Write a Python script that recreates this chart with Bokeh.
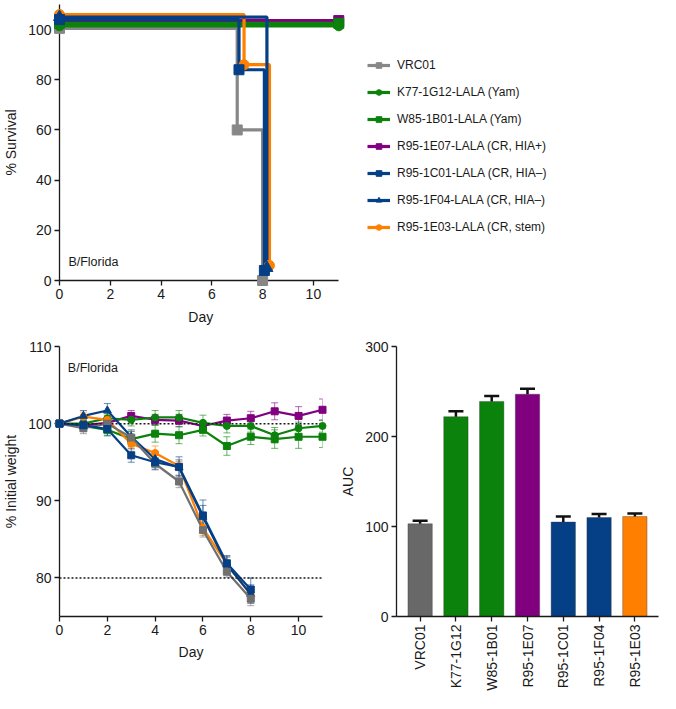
import math
from bokeh.plotting import figure
from bokeh.models import (Range1d, Legend, LegendItem, Label, Span, Whisker, Title,
                          ColumnDataSource, FixedTicker, TeeHead)
from bokeh.layouts import column, row
from bokeh.embed import file_html
from bokeh.resources import INLINE

FONT = "Liberation Sans"
TXT = "#1a1a1a"

# ---------------- data ----------------
names = ["VRC01", "K77-1G12-LALA (Yam)", "W85-1B01-LALA (Yam)",
         "R95-1E07-LALA (CR, HIA+)", "R95-1C01-LALA (CR, HIA\u2013)",
         "R95-1F04-LALA (CR, HIA\u2013)", "R95-1E03-LALA (CR, stem)"]
short_names = ["VRC01", "K77-1G12", "W85-1B01", "R95-1E07", "R95-1C01", "R95-1F04", "R95-1E03"]
surv_colors = ["#878787", "#0b820b", "#0b820b", "#800080", "#053f86", "#053f86", "#ff8000"]
line_colors = ["#707070", "#0b820b", "#0b820b", "#800080", "#053f86", "#053f86", "#ff8000"]
bar_colors = ["#686868", "#0b820b", "#0b820b", "#800080", "#053f86", "#053f86", "#ff8000"]
markers = ["square", "circle", "square", "square", "square", "triangle", "circle"]

# survival (%), as drawn (with small display offsets)
surv_days = [[0, 7.0, 8.0], [0, 11], [0, 11], [0, 11],
             [0, 7.07, 8.07], [0, 8.17], [0, 7.27, 8.27]]
surv_vals = [[100.5, 60, 0], [101.5, 101.5], [102.5, 102.5], [103.6, 103.6],
             [104, 84, 4], [105, 5], [106, 86, 6]]

# weight (% initial)
wt_vals = [
    [100, 99.4, 100.0, 98.2, 94.8, 92.5, 86.2, 80.8, 77.3],
    [100, 100.0, 100.7, 100.5, 100.8, 100.8, 100.1, 99.7, 99.7, 98.5, 99.4, 99.7],
    [100, 99.7, 99.2, 98.0, 98.7, 98.5, 99.2, 97.1, 98.3, 98.0, 98.3, 98.3],
    [100, 99.8, 100.1, 101.0, 100.5, 100.4, 99.7, 100.4, 100.7, 101.6, 101.0, 101.8],
    [100, 99.8, 99.3, 95.9, 95.0, 94.4, 88.1, 81.9, 78.5],
    [100, 101.0, 101.7, 98.3, 95.4, 94.3, 87.9, 81.7, 77.9],
    [100, 100.9, 100.5, 97.4, 96.2, 94.5, 86.5, 81.8, 77.8],
]
wt_err = [
    [0, 0.7, 0.5, 0.8, 0.8, 0.8, 0.9, 0.7, 0.9],
    [0, 0.5, 0.6, 0.8, 0.9, 0.9, 1.0, 0.9, 0.8, 1.0, 0.8, 0.8],
    [0, 0.6, 0.8, 1.0, 1.1, 1.1, 0.8, 1.2, 1.0, 1.2, 1.5, 1.4],
    [0, 0.8, 0.7, 0.7, 0.7, 0.8, 0.6, 0.8, 0.9, 1.1, 1.2, 1.4],
    [0, 0.6, 0.8, 0.9, 0.9, 1.3, 2.0, 1.0, 1.5],
    [0, 0.7, 0.9, 0.9, 0.9, 1.0, 1.5, 1.0, 1.2],
    [0, 0.6, 0.6, 0.8, 0.9, 0.6, 1.0, 1.0, 1.0],
]

# AUC
auc = [103, 222, 239, 247, 105, 110, 111]
auc_err = [3.5, 6, 6, 6, 6, 4, 3.5]

day_ticks = [0, 2, 4, 6, 8, 10]
surv_ticks = [0, 20, 40, 60, 80, 100]
wt_ticks = [80, 90, 100, 110]
auc_ticks = [0, 100, 200, 300]


def style_axes(p):
    for ax in list(p.xaxis) + list(p.yaxis):
        ax.axis_line_color = TXT
        ax.axis_line_width = 1.3
        ax.major_tick_line_color = TXT
        ax.major_tick_line_width = 1.3
        ax.major_tick_out = 5
        ax.major_tick_in = 0
        ax.minor_tick_line_color = None
        ax.major_label_text_font = FONT
        ax.major_label_text_font_size = "14px"
        ax.major_label_text_color = TXT
        ax.major_label_standoff = 3
        ax.axis_label_text_font = FONT
        ax.axis_label_text_font_size = "14px"
        ax.axis_label_text_font_style = "normal"
        ax.axis_label_text_color = TXT
        ax.axis_label_standoff = 6
    p.xgrid.grid_line_color = None
    p.ygrid.grid_line_color = None
    p.outline_line_color = None
    p.background_fill_color = None
    p.border_fill_color = None


# ---------------- survival ----------------
# frame spans the legend area too; the x axis itself is bounded to 0..11
P1_W, P1_L, P1_R = 660, 54, 2
frame_w1 = P1_W - P1_L - P1_R
px_per_day1 = 25.6
p1 = figure(width=P1_W, height=336, output_backend="svg", toolbar_location=None,
            x_range=Range1d(0, frame_w1 / px_per_day1), y_range=Range1d(0, 110),
            min_border_left=P1_L, min_border_right=P1_R, min_border_top=4,
            min_border_bottom=56)
p1.xaxis.ticker = FixedTicker(ticks=day_ticks)
p1.xaxis.bounds = (0, 11)
p1.yaxis.ticker = FixedTicker(ticks=surv_ticks)
p1.yaxis.axis_label = "% Survival"
style_axes(p1)
# x-axis title centred under the bounded 0..11 axis (offset from frame left, px)
p1.add_layout(Title(text="Day", align="left", offset=5.5 * px_per_day1 - 12,
                    text_font=FONT, text_font_size="14px", text_font_style="normal",
                    text_color=TXT, standoff=10), "below")

draw_order = [0, 3, 2, 1, 6, 4, 5]
msize_s = {"square": 10, "circle": 10, "triangle": 12}
items = {}
for i in draw_order:
    src = ColumnDataSource(dict(x=surv_days[i], y=surv_vals[i]))
    lr = p1.step("x", "y", source=src, mode="after", line_color=surv_colors[i], line_width=3.2)
    sr = p1.scatter("x", "y", source=src, marker=markers[i], size=msize_s[markers[i]],
                    fill_color=surv_colors[i], line_color=surv_colors[i], level="overlay")
    items[i] = [lr, sr]

legend = Legend(items=[LegendItem(label=names[i], renderers=items[i]) for i in range(7)],
                location=(308, 46), glyph_width=23, glyph_height=14, label_height=14,
                label_standoff=7, spacing=13, padding=0, margin=0,
                label_text_font=FONT, label_text_font_size="12px", label_text_color=TXT,
                border_line_color=None, background_fill_alpha=0)
p1.add_layout(legend, "center")
p1.add_layout(Label(x=0.35, y=7.5, text="B/Florida", text_font=FONT, text_font_size="12.5px",
                    text_color=TXT, text_baseline="middle"))

# ---------------- weight ----------------
p2 = figure(width=330, height=357, output_backend="svg", toolbar_location=None,
            x_range=Range1d(0, 11), y_range=Range1d(75, 110),
            min_border_left=54, min_border_right=8, min_border_top=10,
            min_border_bottom=74)
p2.xaxis.ticker = FixedTicker(ticks=day_ticks)
p2.yaxis.ticker = FixedTicker(ticks=wt_ticks)
p2.xaxis.axis_label = "Day"
p2.yaxis.axis_label = "% Initial weight"
style_axes(p2)
for loc in (100, 80):
    p2.add_layout(Span(location=loc, dimension="width", line_color=TXT, line_width=1.5,
                       line_dash="2 2"))

msize_w = {"square": 7, "circle": 7, "triangle": 8}
wt_order = [3, 1, 2, 6, 5, 0, 4]
for i in wt_order:
    n = len(wt_vals[i])
    days = list(range(n))
    src = ColumnDataSource(dict(x=days, y=wt_vals[i],
                                lo=[v - e for v, e in zip(wt_vals[i], wt_err[i])],
                                hi=[v + e for v, e in zip(wt_vals[i], wt_err[i])]))
    wh = Whisker(source=src, base="x", upper="hi", lower="lo", line_color=line_colors[i],
                 line_alpha=0.6, line_width=1,
                 upper_head=TeeHead(size=7, line_color=line_colors[i], line_alpha=0.6, line_width=1),
                 lower_head=TeeHead(size=7, line_color=line_colors[i], line_alpha=0.6, line_width=1))
    p2.add_layout(wh)
    p2.line("x", "y", source=src, line_color=line_colors[i], line_width=2.2)
    p2.scatter("x", "y", source=src, marker=markers[i], size=msize_w[markers[i]],
               fill_color=line_colors[i], line_color=line_colors[i], level="overlay")
p2.add_layout(Label(x=0.35, y=107.2, text="B/Florida", text_font=FONT, text_font_size="12.5px",
                    text_color=TXT, text_baseline="middle"))

# ---------------- AUC bars ----------------
idx = list(range(len(auc)))
p3 = figure(width=330, height=357, output_backend="svg", toolbar_location=None,
            x_range=Range1d(-0.66, 6.66), y_range=Range1d(0, 300),
            min_border_left=66, min_border_right=2, min_border_top=10,
            min_border_bottom=74)
p3.xaxis.ticker = FixedTicker(ticks=idx)
p3.xaxis.major_label_overrides = {i: s for i, s in enumerate(short_names)}
p3.xaxis.major_label_orientation = math.pi / 2
p3.yaxis.ticker = FixedTicker(ticks=auc_ticks)
p3.yaxis.axis_label = "AUC"
style_axes(p3)
bsrc = ColumnDataSource(dict(x=idx, top=auc, color=bar_colors,
                             hi=[a + e for a, e in zip(auc, auc_err)]))
p3.vbar(x="x", top="top", width=0.68, source=bsrc, fill_color="color",
        line_color="#333333", line_width=0.6, line_alpha=0.6)
p3.add_layout(Whisker(source=bsrc, base="x", upper="hi", lower="top", line_color="#111111",
                      line_width=2.5, lower_head=None,
                      upper_head=TeeHead(size=15, line_color="#111111", line_width=2.5),
                      level="overlay"))

layout = column(p1, row(p2, p3))
open("out.html", "w").write(file_html(layout, INLINE))
